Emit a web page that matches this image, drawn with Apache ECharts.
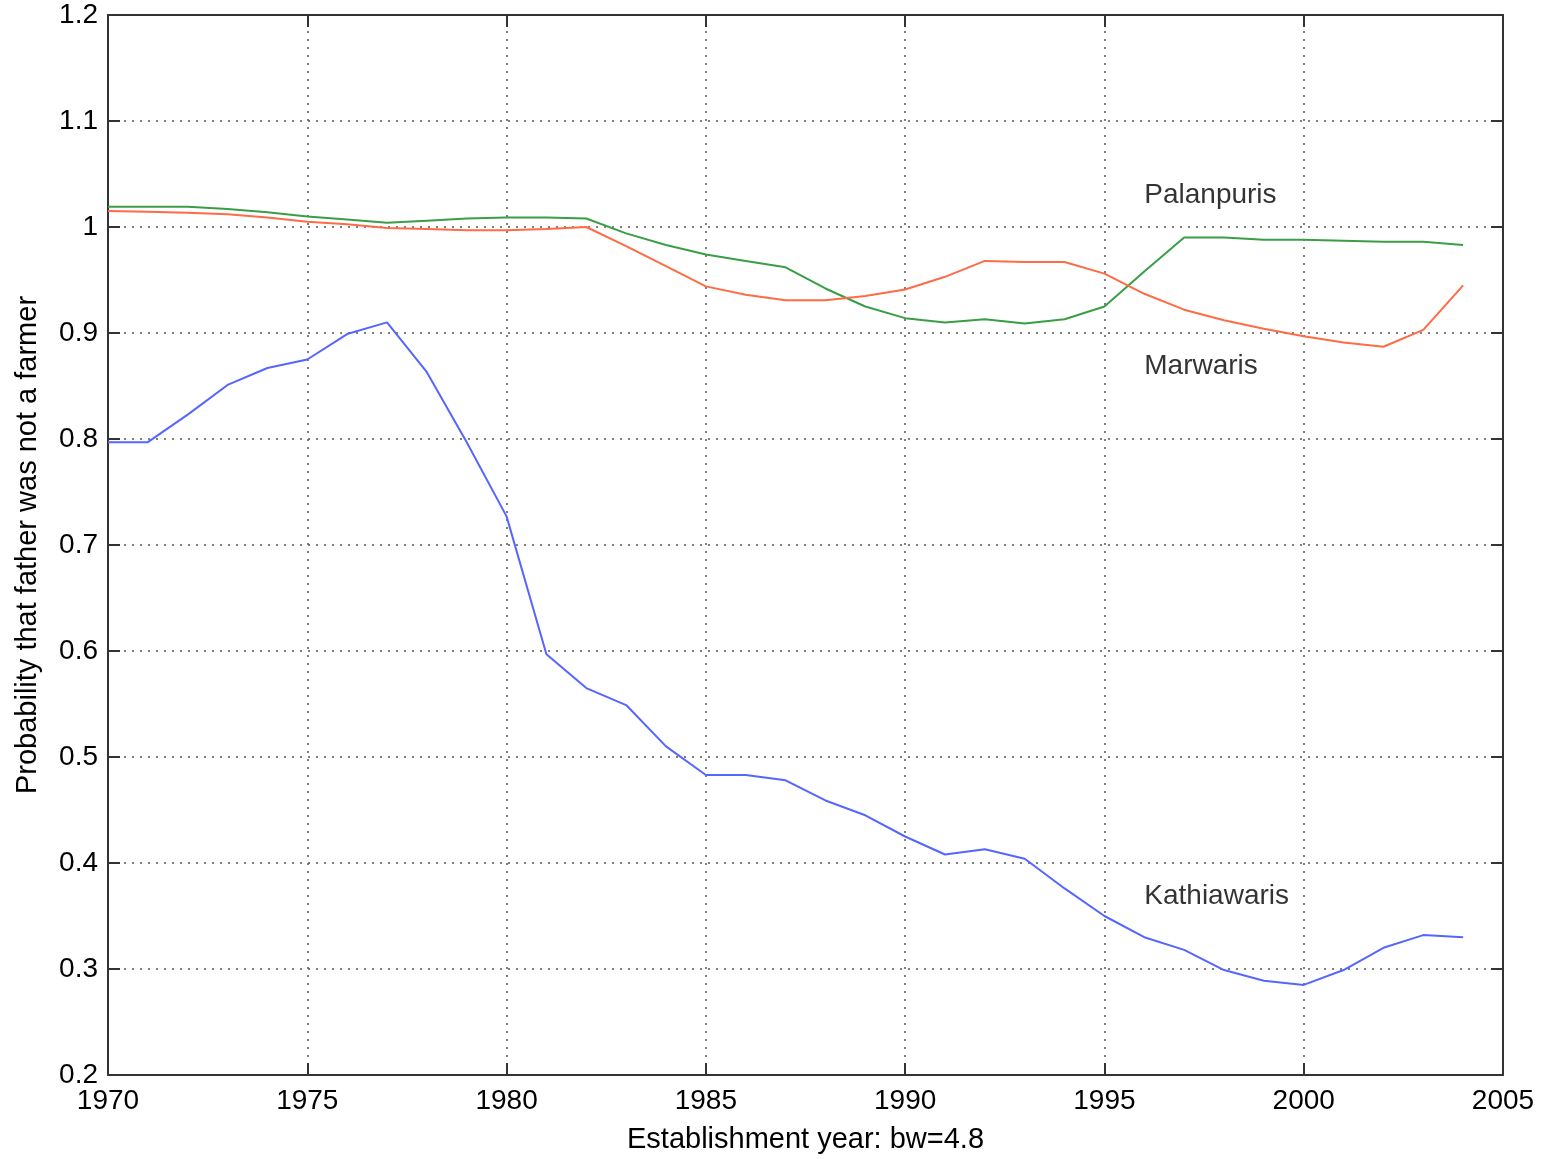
<!DOCTYPE html>
<html>
<head>
<meta charset="utf-8">
<script src="https://cdn.jsdelivr.net/npm/echarts@6/dist/echarts.min.js"></script>
<style>html,body{margin:0;padding:0;background:#fff;}#c{width:1547px;height:1159px;}</style>
</head>
<body>
<div id="c"></div>
<script>
var years = [1970,1971,1972,1973,1974,1975,1976,1977,1978,1979,1980,1981,1982,1983,1984,1985,1986,1987,1988,1989,1990,1991,1992,1993,1994,1995,1996,1997,1998,1999,2000,2001,2002,2003,2004];
var kathiawaris = [0.797,0.797,0.823,0.851,0.867,0.875,0.899,0.910,0.863,0.797,0.727,0.597,0.565,0.549,0.510,0.483,0.483,0.478,0.459,0.445,0.425,0.408,0.413,0.404,0.376,0.350,0.330,0.318,0.299,0.289,0.285,0.299,0.320,0.332,0.330];
var palanpuris = [1.019,1.019,1.019,1.017,1.014,1.010,1.007,1.004,1.006,1.008,1.009,1.009,1.008,0.994,0.983,0.974,0.968,0.962,0.942,0.925,0.914,0.910,0.913,0.909,0.913,0.925,0.958,0.990,0.990,0.988,0.988,0.987,0.986,0.986,0.983];
var marwaris = [1.015,1.0145,1.0135,1.012,1.009,1.005,1.0025,0.999,0.998,0.997,0.997,0.998,1.000,0.982,0.963,0.944,0.936,0.931,0.931,0.935,0.941,0.953,0.968,0.967,0.967,0.956,0.937,0.922,0.912,0.904,0.897,0.891,0.887,0.903,0.945];
var labelNames = ['Palanpuris','Marwaris','Kathiawaris'];
var labelYear = [1996, 1996, 1996];
var labelValue = [1.030, 0.869, 0.369];
var xTicks = [1970,1975,1980,1985,1990,1995,2000,2005];
var yTicks = [0.2,0.3,0.4,0.5,0.6,0.7,0.8,0.9,1,1.1,1.2];

function pairs(v){ return years.map(function(y,i){ return [y, v[i]]; }); }
var font = 'Liberation Sans, Arial, Helvetica, sans-serif';
var txt = '#000';

var chart = echarts.init(document.getElementById('c'), null, {renderer:'canvas'});
var axisLine = {show:true, lineStyle:{color:'#333', width:2}};
var axisTick = {show:true, inside:true, length:12, lineStyle:{color:'#333', width:2}};
chart.setOption({
  animation:false,
  backgroundColor:'#fff',
  grid:{left:108, right:44, top:15, bottom:84},
  xAxis:[{
    type:'value', min:1970, max:2005, interval:5,
    name:'Establishment year: bw=4.8', nameLocation:'middle', nameGap:50,
    nameTextStyle:{fontFamily:font, fontSize:29, color:txt},
    axisLine:axisLine, axisTick:axisTick,
    axisLabel:{fontFamily:font, fontSize:28, color:txt, margin:12,
      formatter:function(v){ return xTicks.indexOf(v)>=0 ? String(v) : ''; }},
    splitLine:{show:true, lineStyle:{color:'#555', type:[2,6], width:1.5}}
  },{
    type:'value', position:'top', min:1970, max:2005, interval:5,
    axisLine:axisLine, axisTick:axisTick, axisLabel:{show:false}, splitLine:{show:false}
  }],
  yAxis:[{
    type:'value', min:0.2, max:1.2, interval:0.1,
    name:'Probability that father was not a farmer', nameLocation:'middle', nameGap:66,
    nameTextStyle:{fontFamily:font, fontSize:29, color:txt},
    axisLine:axisLine, axisTick:axisTick,
    axisLabel:{fontFamily:font, fontSize:28, color:txt, margin:10,
      formatter:function(v){ var r=Math.round(v*10)/10; return r===1 ? '1' : r.toFixed(1); }},
    splitLine:{show:true, lineStyle:{color:'#555', type:[2,6], width:1.5}}
  },{
    type:'value', position:'right', min:0.2, max:1.2, interval:0.1,
    axisLine:axisLine, axisTick:axisTick, axisLabel:{show:false}, splitLine:{show:false}
  }],
  series:[
    {type:'line', name:'Kathiawaris', data:pairs(kathiawaris), showSymbol:false, symbol:'none',
     lineStyle:{color:'#5566ff', width:2}, z:3},
    {type:'line', name:'Palanpuris', data:pairs(palanpuris), showSymbol:false, symbol:'none',
     lineStyle:{color:'#3a9e46', width:2}, z:3},
    {type:'line', name:'Marwaris', data:pairs(marwaris), showSymbol:false, symbol:'none',
     lineStyle:{color:'#ff6b45', width:2}, z:3},
    {type:'scatter', symbolSize:0, silent:true, z:5,
     data:labelNames.map(function(n,i){ return {name:n, value:[labelYear[i], labelValue[i]]}; }),
     label:{show:true, position:'right', distance:0, formatter:'{b}',
       fontFamily:font, fontSize:28, color:txt}}
  ]
});
</script>
</body>
</html>
